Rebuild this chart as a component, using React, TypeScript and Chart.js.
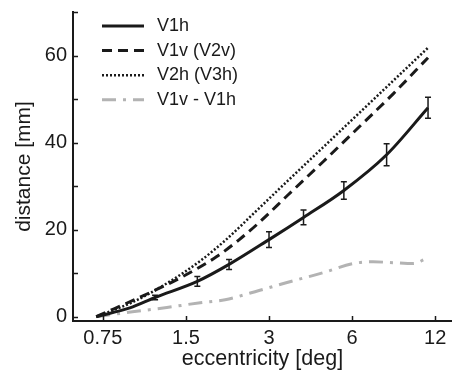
import React, { useEffect, useRef } from 'react';
import { Chart, registerables } from 'chart.js';

Chart.register(...registerables);

// ---- data ----
const xTickValues = [0.75, 1.5, 3, 6, 12];
const xTickLabels = ['0.75', '1.5', '3', '6', '12'];
const yTickValues = [0, 10, 20, 30, 40, 50, 60, 70];
const yLabeledTicks = [0, 20, 40, 60];

const seriesLabels = ['V1h', 'V1v (V2v)', 'V2h (V3h)', 'V1v - V1h'];

const v1hEcc = [0.71, 0.94, 1.16, 1.65, 2.15, 3.0, 4.0, 5.6, 8.0, 11.3];
const v1hDist = [0, 2.0, 4.4, 8.1, 12.0, 17.7, 22.8, 29.0, 37.2, 48.0];
const v1hErr = [0, 0, 0.5, 1.1, 1.15, 1.8, 1.7, 2.0, 2.5, 2.4];

const v1vEcc = [0.71, 1.11, 1.46, 1.94, 2.33, 2.76, 3.52, 4.71, 6.58, 8.45, 11.3];
const v1vDist = [0, 5.5, 9.2, 13.8, 17.6, 21.6, 28.0, 35.6, 44.5, 51.2, 59.5];

const v2hEcc = [0.71, 0.96, 1.29, 1.69, 2.08, 2.76, 3.4, 4.71, 6.2, 8.45, 11.3];
const v2hDist = [0, 3.3, 7.8, 12.8, 17.5, 24.9, 30.4, 38.9, 46.1, 54.2, 61.8];

const diffEcc = [0.71, 0.96, 1.28, 1.69, 2.08, 2.76, 3.46, 4.71, 6.05, 7.15, 8.45, 9.99, 11.1];
const diffDist = [0, 1.1, 2.1, 3.2, 3.9, 6.0, 7.8, 10.1, 12.2, 12.6, 12.4, 12.2, 13.3];

const FONT = "'Liberation Sans', Arial, Helvetica, sans-serif";
const INK = '#1a1a1a';
const GRAY = '#b3b3b3';

const toPoints = (xs: number[], ys: number[]) => xs.map((x, i) => ({ x, y: ys[i] }));

const errorBarPlugin = {
  id: 'errorBars',
  afterDatasetsDraw(chart: any) {
    const { ctx, scales } = chart;
    const xs = scales.x;
    const ys = scales.y;
    ctx.save();
    ctx.strokeStyle = INK;
    ctx.lineWidth = 1.5;
    ctx.beginPath();
    v1hEcc.forEach((e, i) => {
      const err = v1hErr[i];
      if (!err) return;
      const px = xs.getPixelForValue(e);
      const top = ys.getPixelForValue(v1hDist[i] + err);
      const bot = ys.getPixelForValue(v1hDist[i] - err);
      ctx.moveTo(px, top);
      ctx.lineTo(px, bot);
      ctx.moveTo(px - 3, top);
      ctx.lineTo(px + 3, top);
      ctx.moveTo(px - 3, bot);
      ctx.lineTo(px + 3, bot);
    });
    ctx.stroke();
    ctx.restore();
  },
};

const inwardTicksPlugin = {
  id: 'inwardTicks',
  afterDraw(chart: any) {
    const { ctx, chartArea, scales } = chart;
    ctx.save();
    ctx.strokeStyle = INK;
    ctx.lineWidth = 1.5;
    ctx.beginPath();
    scales.x.ticks.forEach((t: any) => {
      const px = Math.round(scales.x.getPixelForValue(t.value)) + 0.5;
      ctx.moveTo(px, chartArea.bottom);
      ctx.lineTo(px, chartArea.bottom - 5);
    });
    scales.y.ticks.forEach((t: any) => {
      const py = Math.round(scales.y.getPixelForValue(t.value)) + 0.5;
      ctx.moveTo(chartArea.left, py);
      ctx.lineTo(chartArea.left + 5, py);
    });
    ctx.stroke();
    ctx.restore();
  },
};

const insideLegendPlugin = {
  id: 'insideLegend',
  afterDraw(chart: any) {
    const { ctx, chartArea } = chart;
    ctx.save();
    chart.data.datasets.forEach((ds: any, i: number) => {
      const yy = chartArea.top + 14 + i * 24.6;
      const x0 = chartArea.left + 29;
      const x1 = chartArea.left + 71;
      ctx.beginPath();
      ctx.strokeStyle = ds.borderColor;
      ctx.lineWidth = ds.borderWidth;
      ctx.setLineDash(ds.borderDash || []);
      ctx.lineCap = 'butt';
      ctx.moveTo(x0, yy);
      ctx.lineTo(x1, yy);
      ctx.stroke();
      ctx.setLineDash([]);
      ctx.fillStyle = INK;
      ctx.font = `18px ${FONT}`;
      ctx.textBaseline = 'middle';
      ctx.textAlign = 'left';
      ctx.fillText(ds.label, chartArea.left + 84, yy);
    });
    ctx.restore();
  },
};

export default function App() {
  const canvasRef = useRef<HTMLCanvasElement | null>(null);

  useEffect(() => {
    if (!canvasRef.current) return;
    const chart = new Chart(canvasRef.current, {
      type: 'line',
      data: {
        datasets: [
          {
            label: seriesLabels[0],
            data: toPoints(v1hEcc, v1hDist),
            borderColor: INK,
            borderWidth: 3,
            borderDash: [],
            pointRadius: 0,
            cubicInterpolationMode: 'monotone',
          },
          {
            label: seriesLabels[1],
            data: toPoints(v1vEcc, v1vDist),
            borderColor: INK,
            borderWidth: 3,
            borderDash: [10, 6],
            pointRadius: 0,
            cubicInterpolationMode: 'monotone',
          },
          {
            label: seriesLabels[2],
            data: toPoints(v2hEcc, v2hDist),
            borderColor: INK,
            borderWidth: 2.5,
            borderDash: [2, 2],
            pointRadius: 0,
            cubicInterpolationMode: 'monotone',
          },
          {
            label: seriesLabels[3],
            data: toPoints(diffEcc, diffDist),
            borderColor: GRAY,
            borderWidth: 3,
            borderDash: [14, 7, 3, 7],
            pointRadius: 0,
            cubicInterpolationMode: 'monotone',
          },
        ] as any,
      },
      options: {
        responsive: false,
        animation: false,
        layout: { padding: { top: 12, right: 0, left: 0, bottom: 0 } },
        plugins: { legend: { display: false }, tooltip: { enabled: false } },
        scales: {
          x: {
            type: 'logarithmic',
            min: 0.585,
            max: 13.8,
            afterBuildTicks: (s: any) => {
              s.ticks = xTickValues.map((v) => ({ value: v }));
            },
            afterFit: (s: any) => {
              s.height = 51;
              s.paddingLeft = 0;
              s.paddingRight = 0;
            },
            grid: { display: false, drawTicks: false },
            border: { display: true, color: INK, width: 2 },
            ticks: {
              autoSkip: false,
              maxRotation: 0,
              padding: 5,
              color: INK,
              font: { family: FONT, size: 20 },
              callback: (_v: any, i: number) => xTickLabels[i],
            },
            title: {
              display: true,
              text: 'eccentricity [deg]',
              color: INK,
              font: { family: FONT, size: 21.5 },
              padding: { top: 0, bottom: 0 },
            },
          },
          y: {
            type: 'linear',
            min: -1,
            max: 70,
            afterBuildTicks: (s: any) => {
              s.ticks = yTickValues.map((v) => ({ value: v }));
            },
            afterFit: (s: any) => {
              s.width = 73;
              s.paddingTop = 0;
              s.paddingBottom = 0;
            },
            grid: { display: false, drawTicks: false },
            border: { display: true, color: INK, width: 2 },
            ticks: {
              autoSkip: false,
              padding: 6,
              color: INK,
              font: { family: FONT, size: 20 },
              callback: (_v: any, i: number) =>
                yLabeledTicks.includes(yTickValues[i]) ? String(yTickValues[i]) : '',
            },
            title: {
              display: true,
              text: 'distance [mm]',
              color: INK,
              font: { family: FONT, size: 21 },
              padding: { top: 12, bottom: 0 },
            },
          },
        },
      } as any,
      plugins: [errorBarPlugin, inwardTicksPlugin, insideLegendPlugin],
    });
    return () => chart.destroy();
  }, []);

  return (
    <div style={{ position: 'absolute', left: 0, top: 0, width: 452, height: 372, background: '#fff' }}>
      <canvas ref={canvasRef} width={452} height={372} />
    </div>
  );
}
